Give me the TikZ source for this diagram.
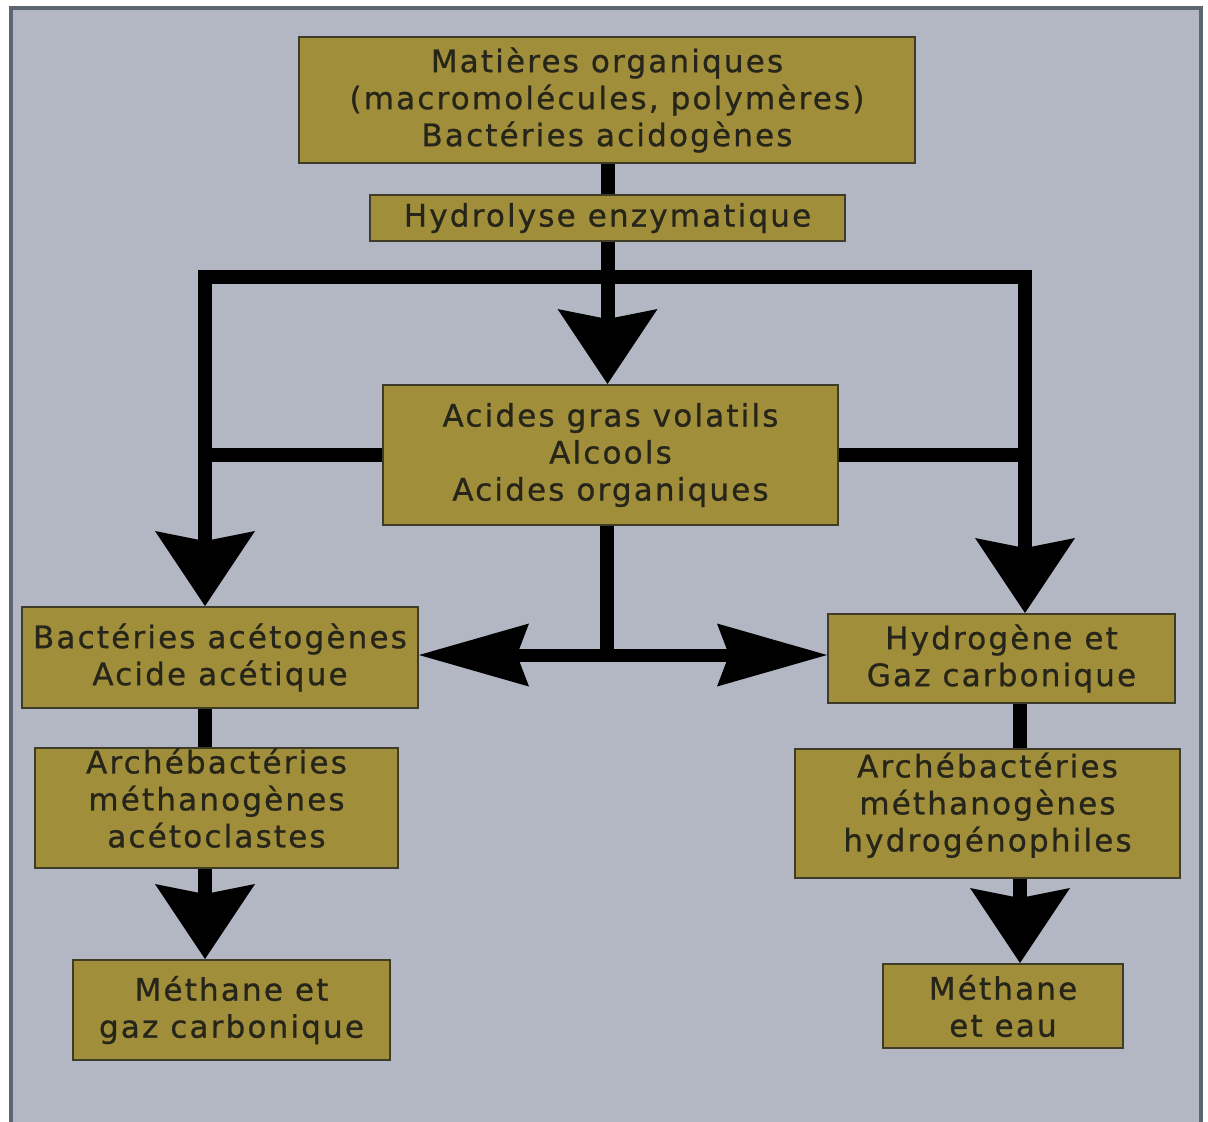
\documentclass[tikz,border=0pt]{standalone}
\usepackage{fontspec}
\setmainfont{DejaVu Sans}[LetterSpace=7,FakeBold=0.8]
\usetikzlibrary{arrows.meta}
\definecolor{bgc}{HTML}{B3B7C4}
\definecolor{framec}{HTML}{5B6671}
\definecolor{boxc}{HTML}{A18E3B}
\definecolor{boxline}{HTML}{3E3B26}
\definecolor{txtc}{HTML}{26251A}
\tikzset{
  box/.style={draw=boxline, line width=2pt, fill=boxc, text=txtc, align=center,
    inner sep=0pt, font=\fontsize{31}{37}\selectfont},
  conn/.style={line width=14pt, draw=black},
  varrow/.style={conn, -{Stealth[length=75pt,width=100pt,inset=10pt,line width=0pt]}},
}
\begin{document}
\begin{tikzpicture}[x=1pt,y=-1pt]
\useasboundingbox (0,0) rectangle (1208,1122);
\fill[white] (0,0) rectangle (1208,1122);
\fill[bgc] (11,8) rectangle (1201,1122);
\draw[framec, line width=4pt] (11,1122) -- (11,8) -- (1201,8) -- (1201,1122);

\node[box, minimum width=616pt, minimum height=126pt] (top) at (607,100)
  {Matières organiques\\(macromolécules, polymères)\\Bactéries acidogènes};
\node[box, minimum width=475pt, minimum height=46pt] (hydro) at (607.5,218)
  {Hydrolyse enzymatique};
\node[box, minimum width=455pt, minimum height=140pt] (cbox) at (610.5,455)
  {Acides gras volatils\\Alcools\\Acides organiques};
\node[box, minimum width=396pt, minimum height=101pt] (acet) at (220,657.5)
  {Bactéries acétogènes\\Acide acétique};
\node[box, minimum width=347pt, minimum height=89pt] (hyd) at (1001.5,658.5)
  {Hydrogène et\\Gaz carbonique};
\node[box, minimum width=363pt, minimum height=120pt] (arch1) at (216.5,808)
  {Archébactéries\\méthanogènes\\acétoclastes\\[-17pt]\mbox{}};
\node[box, minimum width=385pt, minimum height=129pt] (arch2) at (987.5,813.5)
  {Archébactéries\\méthanogènes\\hydrogénophiles\\[-14pt]\mbox{}};
\node[box, minimum width=317pt, minimum height=100pt] (meth1) at (231.5,1010)
  {Méthane et\\gaz carbonique};
\node[box, minimum width=240pt, minimum height=84pt] (meth2) at (1003,1006)
  {Méthane\\et eau};

\coordinate (lv) at (205,277);
\coordinate (rv) at (1025,277);
\coordinate (mid) at (607,655);
\coordinate (rc) at (1020,700);

% trunk
\draw[conn] (top.south -| hydro.north) -- (hydro.north);
\draw[varrow] (hydro.south) -- (hydro.south |- cbox.north);
% distribution bar
\draw[conn, line join=miter, {Stealth[length=75pt,width=100pt,inset=10pt,line width=0pt]}-{Stealth[length=75pt,width=100pt,inset=10pt,line width=0pt]}]
  (lv |- acet.north) -- (lv) -- (rv) -- (rv |- hyd.north);
\draw[conn] (cbox.west) -- (cbox.west -| lv);
\draw[conn] (cbox.east) -- (cbox.east -| rv);
% central split
\draw[conn] (cbox.south -| mid) -- (mid);
\draw[line width=13pt, {Stealth[length=110pt,width=63pt,inset=12pt,line width=0pt]}-{Stealth[length=110pt,width=63pt,inset=12pt,line width=0pt]}]
  (acet.east |- mid) -- (hyd.west |- mid);
% left column
\draw[conn] (acet.south -| lv) -- (arch1.north -| lv);
\draw[varrow] (arch1.south -| lv) -- (meth1.north -| lv);
% right column
\draw[conn] (hyd.south -| rc) -- (arch2.north -| rc);
\draw[varrow] (arch2.south -| rc) -- (meth2.north -| rc);
\end{tikzpicture}
\end{document}
